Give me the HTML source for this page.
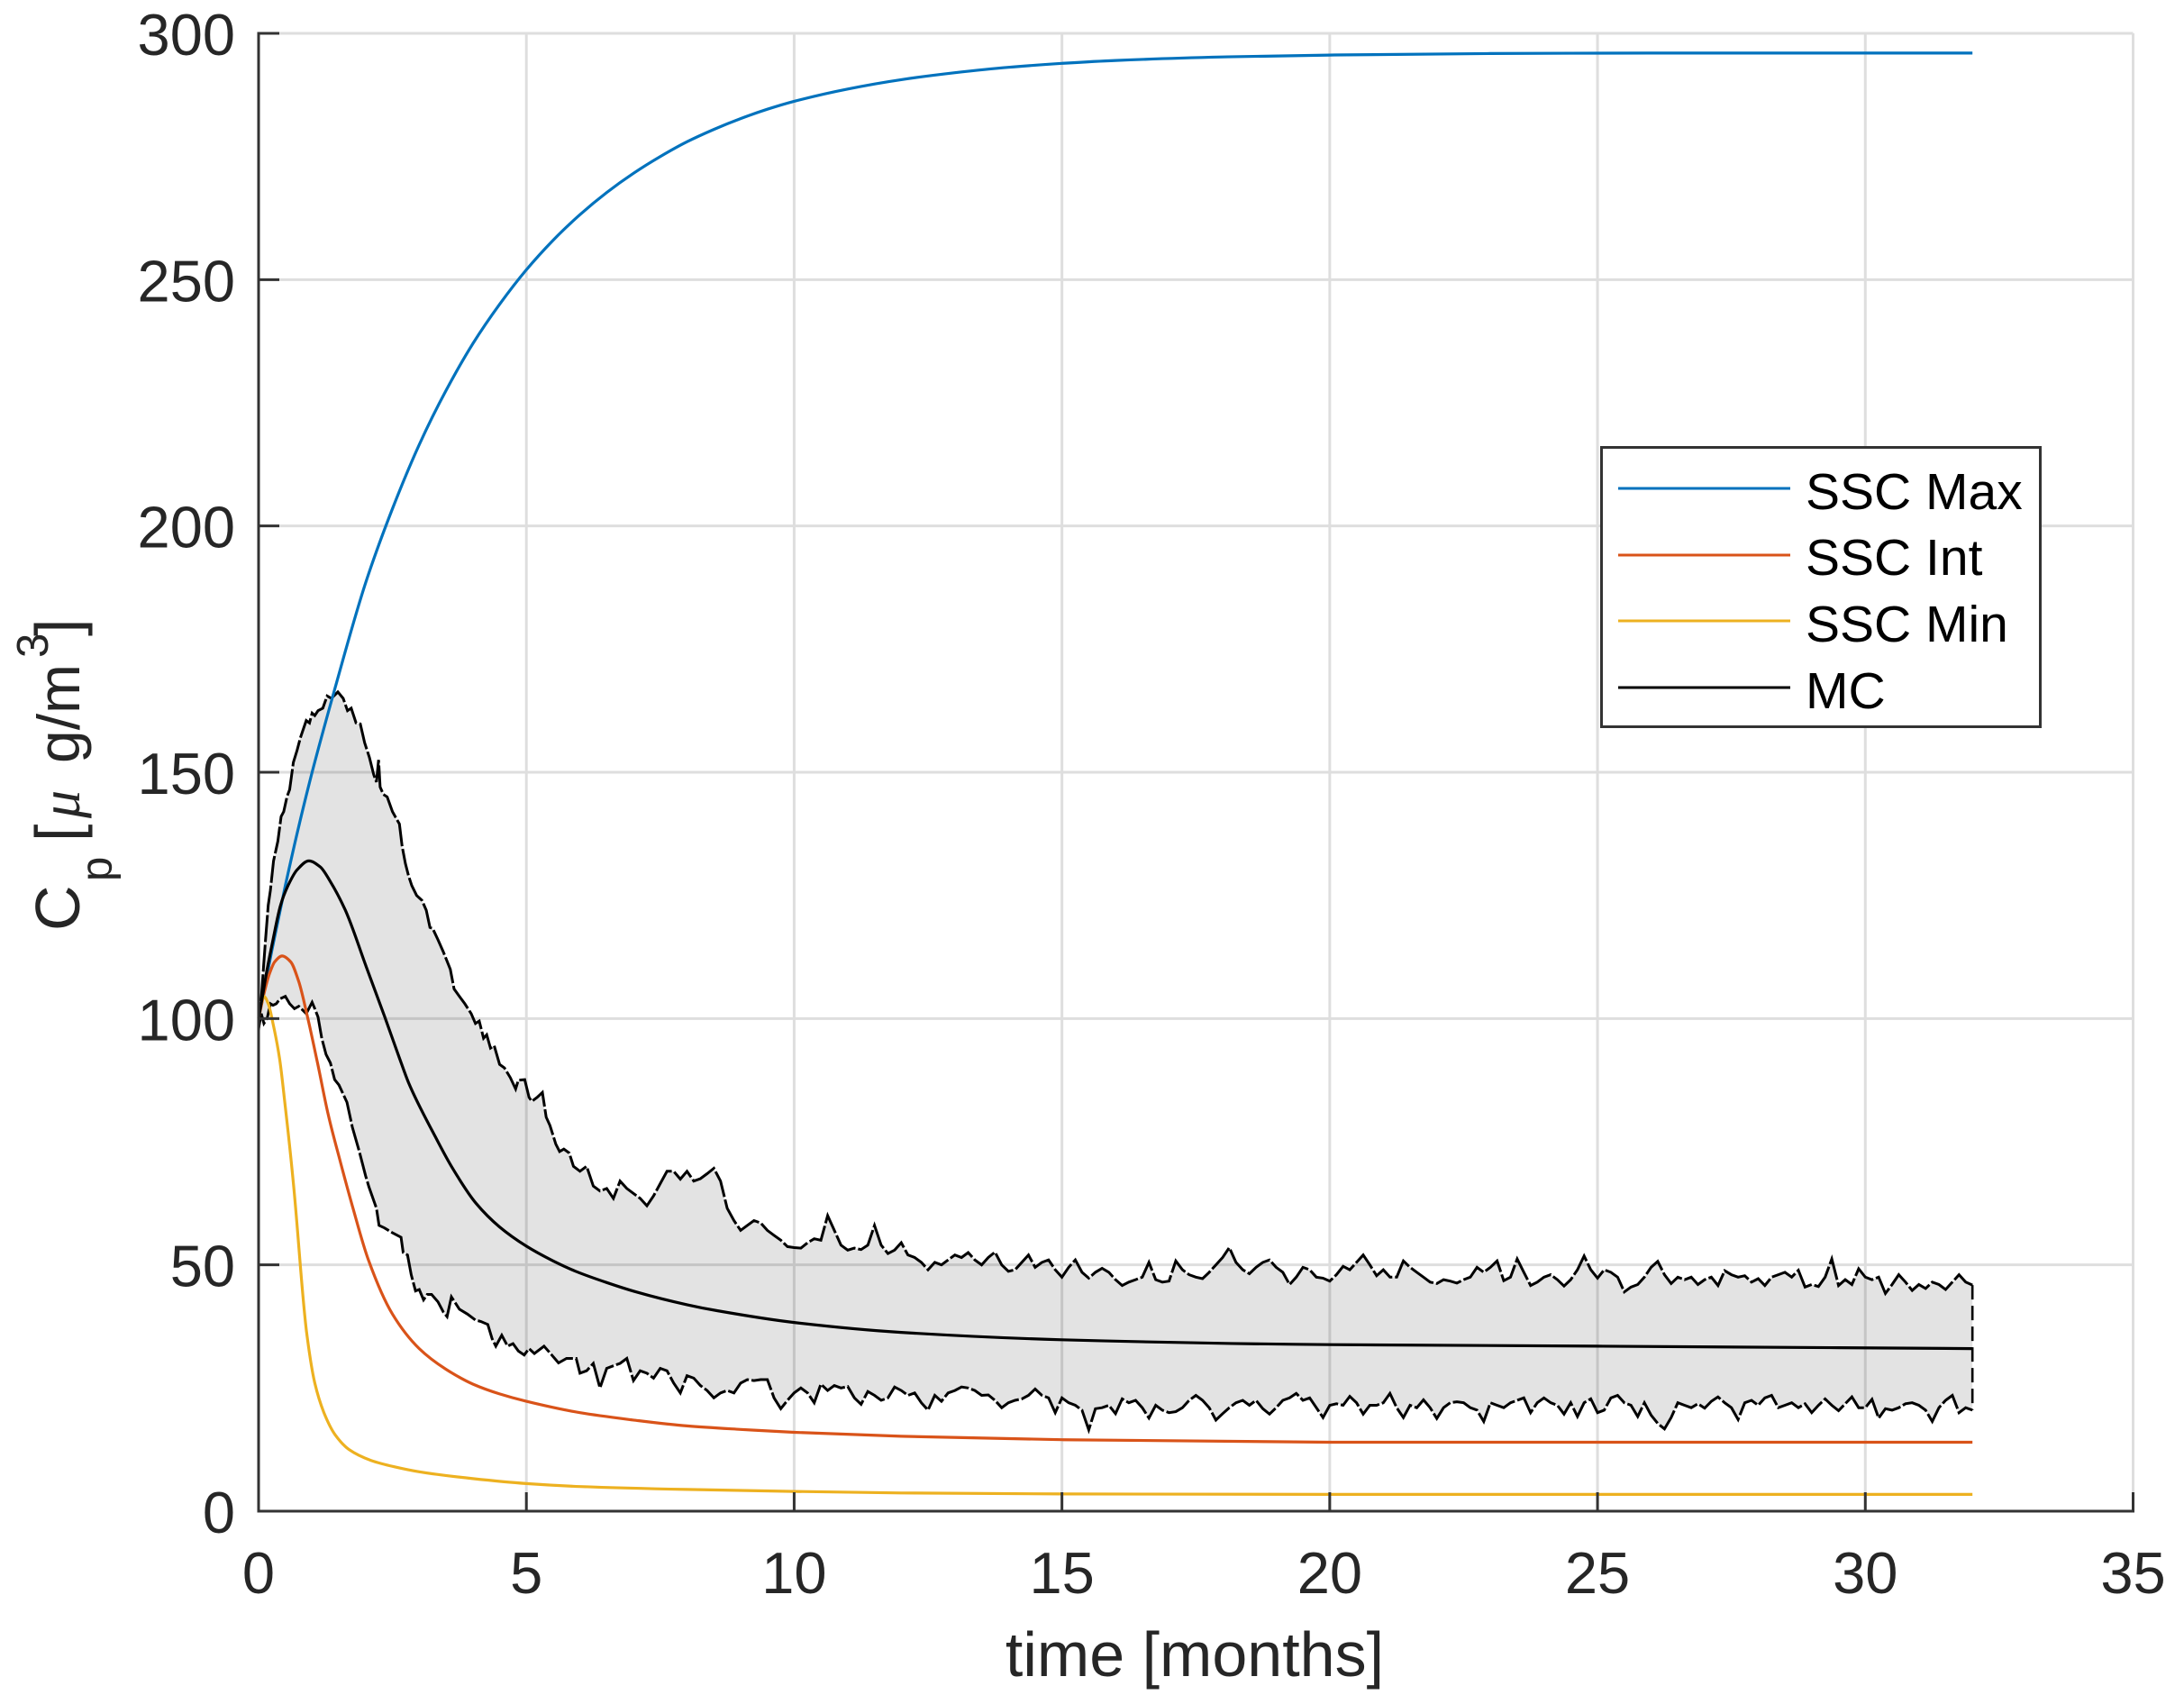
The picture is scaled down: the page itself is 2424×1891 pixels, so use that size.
<!DOCTYPE html>
<html lang="en">
<head>
<meta charset="utf-8">
<title>Cp over time</title>
<style>
html,body{margin:0;padding:0;background:#fff;}
#chart{display:block;width:2424px;height:1891px;font-family:"Liberation Sans",Arial,sans-serif;}
</style>
</head>
<body>
<svg id="chart" xmlns="http://www.w3.org/2000/svg" width="2424" height="1891" viewBox="0 0 2424 1891">
  <rect width="2424" height="1891" fill="#fff"/>
  <g id="grid"></g>
  <path id="band" fill="#000" fill-opacity="0.11" stroke="none"/>
  <g id="series"></g>
  <g id="axes"></g>
  <g id="ticks" font-size="65" fill="#262626"></g>
  <text x="1326" y="1860" font-size="70" fill="#262626" text-anchor="middle">time [months]</text>
  <g transform="translate(88,1033) rotate(-90)" fill="#262626">
    <text x="0" y="0" font-size="70">C</text>
    <text x="55" y="36" font-size="49">p</text>
    <text x="99" y="0" font-size="70">[</text>
    <text x="125" y="0" font-size="62" font-family="'Liberation Serif',serif" font-style="italic">μ</text>
    <text x="186" y="0" font-size="66">g/m</text>
    <text x="303" y="-35" font-size="49">3</text>
    <text x="327" y="0" font-size="70">]</text>
  </g>
  <g id="legend">
    <rect x="1777.5" y="496.5" width="487" height="310" fill="#fff" stroke="#333" stroke-width="3"/>
    <line x1="1796" x2="1987" y1="542" y2="542" stroke="#0072BD" stroke-width="3"/>
    <text x="2004" y="565" font-size="57" fill="#000">SSC Max</text>
    <line x1="1796" x2="1987" y1="616" y2="616" stroke="#D95319" stroke-width="3"/>
    <text x="2004" y="638" font-size="57" fill="#000">SSC Int</text>
    <line x1="1796" x2="1987" y1="689" y2="689" stroke="#EDB120" stroke-width="3"/>
    <text x="2004" y="712" font-size="57" fill="#000">SSC Min</text>
    <line x1="1796" x2="1987" y1="763" y2="763" stroke="#000" stroke-width="3"/>
    <text x="2004" y="786" font-size="57" fill="#000">MC</text>
  </g>
</svg>
<script>
// ---- tick values ----
var xTicks = [0,5,10,15,20,25,30,35];
var yTicks = [0,50,100,150,200,250,300];

// ---- smooth series ----
var maxTimes = [0,0.25,0.5,0.75,1,1.4,2,2.5,3,3.5,4,4.5,5,5.5,6,6.5,7,7.5,8,8.5,9,9.5,10,11,12,13,14,15,16,18,20,23,26,32];
var maxValues = [100,114,127,139,150,166,188.5,203.5,216.5,227.5,237,245,252,258,263.2,267.7,271.6,275,278,280.5,282.7,284.6,286.2,288.7,290.6,292,293.1,293.9,294.5,295.2,295.6,295.9,296,296];

var intTimes = [0,0.1,0.2,0.3,0.44,0.6,0.75,0.92,1.1,1.3,1.5,1.75,2.05,2.5,3,3.5,4,4.5,5,6,7,8,9,10,12,15,20,25,32];
var intValues = [100,105,109,111.5,112.7,111.5,107.5,100,91,80.5,72,62,51,40,33,28.8,25.8,23.8,22.3,20,18.5,17.3,16.6,16,15.2,14.5,14,14,14];

var minTimes = [0,0.05,0.1,0.18,0.27,0.39,0.5,0.65,0.9,1.05,1.22,1.43,1.69,2.1,2.54,3,4,5,6,8,10,12,15,20,32];
var minValues = [100,103,104.5,103,99,92,82,66.6,36,26,20,15.5,12.5,10.3,9,8,6.6,5.6,5,4.4,4,3.7,3.5,3.4,3.4];

var mcTimes = [0,0.08,0.16,0.27,0.41,0.55,0.72,0.94,1.15,1.34,1.62,2.01,2.35,2.62,2.8,3.3,3.6,4.06,4.5,5,5.5,5.92,6.5,7.05,8,8.56,10,12,15,20,25,32];
var mcValues = [100,105,110,116,123,127,130.2,132,130.8,127.8,122,110.5,100.5,92.3,87,76,70,62.5,57.7,53.8,50.8,48.7,46.4,44.5,41.9,40.7,38.3,36.3,34.8,33.8,33.5,33];

// ---- band upper bound, early part (irregular times) ----
var upperEarlyTimes = [0,0.03,0.05,0.09,0.13,0.18,0.22,0.28,0.36,0.42,0.47,0.53,0.58,0.65,0.72,0.78,0.89,0.95,1,1.05,1.11,1.2,1.28,1.36,1.48,1.58,1.66,1.73,1.82,1.9,1.98,2.07,2.15,2.2,2.24,2.27,2.33,2.4,2.5,2.63,2.68,2.74,2.8,2.86,2.95,3.05,3.13,3.2,3.25,3.35,3.45,3.58,3.65,3.75,3.85,3.97,4.05,4.12,4.2,4.26,4.33,4.4,4.5,4.59,4.7,4.8,4.85,4.97,5.05,5.1,5.2,5.3,5.37,5.44,5.55,5.62,5.7,5.8,5.88];
var upperEarlyValues = [97.5,103,104,110,116,123,126,132,136,141,142,145,146.5,152,154.5,157,160.5,160,162,161.5,162.5,163,165.5,165,166.3,165,162.5,163,160,159.8,156,153,149.5,148,152.5,147,145.5,145,142,139.5,135,131.5,129,127,125,124,122,118.5,118.3,116,113.5,110,106,104.5,103,101,99,99.5,96,96.7,94,94.5,90.7,90,88,85.7,87.5,87.6,84,83.2,84,85,80,78.3,74.5,73,73.5,72.7,70];

// ---- band upper bound, t = 6 to 32 at an even step ----
var upperTailValues = [69,70,66,65,65.5,63.5,67,65.5,64.5,63.5,62,64,66.5,69,69,67.4,69,67,67.5,68.5,69.6,67,61.5,59,57,58,59,58.5,57,56,55,53.7,53.5,53.4,54.5,55.3,55,60,57,54,53,53.4,53.1,54,58,54,52.3,53,54.5,52,51.5,50.5,49,50.5,50,51,52,51.5,52.5,51,50,51.5,52.6,50,48.7,49,50.5,52,49.5,50.5,51,49,47.5,49.5,51,48.5,47.3,48.5,49.3,48.5,47,45.8,46.5,47,47.5,50.5,47,46.5,46.7,50.8,49,48,47.5,47.2,48.5,50,51.5,53.5,50.5,49,48.2,49.5,50.5,51,49.5,48.5,46,47.5,49.5,49,47.5,47.3,46.7,48,49.7,49,50.5,52,50,47.8,49,47.5,47.5,50.8,49.5,48.5,47.5,46.5,46.2,47,46.7,46.3,47,47.5,49.5,48.5,49.5,50.8,46.8,47.5,51.2,48.5,45.8,46.5,47.5,48,47,45.7,47,49,51.8,49,47.3,49,48.5,47.5,44.5,45.5,46,47.5,49.5,50.7,48,46.2,47.5,47,47.5,46,47,47.5,45.8,48.8,48,47.5,47.8,46.5,47.2,45.8,47.5,48,48.5,47.5,48.9,45.5,46,45.6,47.5,51.2,45.8,47,46,49.2,47.5,47,47.5,44.2,46,48,46.5,44.8,46,45.2,46.5,46,45,46.5,48,46.5,45.9];

// ---- band lower bound, early part (irregular times) ----
var lowerEarlyTimes = [0,0.05,0.1,0.16,0.22,0.27,0.33,0.4,0.5,0.58,0.67,0.75,0.89,1,1.05,1.11,1.18,1.26,1.34,1.42,1.5,1.65,1.75,1.88,2,2.06,2.2,2.25,2.35,2.5,2.66,2.7,2.78,2.85,2.93,3,3.08,3.15,3.23,3.35,3.45,3.52,3.6,3.75,3.9,4.05,4.15,4.28,4.36,4.43,4.54,4.65,4.75,4.85,4.96,5.05,5.15,5.33,5.45,5.6,5.75,5.93];
var lowerEarlyValues = [98,101,99,100,103,102.7,103,104,104.5,103,102,102.5,101,103.3,102,100.3,96,92.7,91,87.6,86.5,83,78,73,68,65.8,61.5,58,57.5,56.5,55.6,52.5,52,48,44.7,45,42.9,44,44,42.5,40.4,39.5,43.5,41,40,38.8,38.5,37.9,35,33.5,35.7,33.5,34,32.5,31.7,33,32,33.5,32,30.1,31,31];

// ---- band lower bound, t = 6 to 32 at an even step ----
var lowerTailValues = [28,28.5,30,25,29,29.5,30,31,26.5,28.5,28,27,29,28.5,26,24,27.5,27,25.5,24.5,23,24,24.5,24,26,26.7,26.5,26.7,26.7,23,20.8,22.5,24,25,24,22,25.8,24.5,25.5,25,25.3,23,21.7,24.3,23.5,22.5,23,25.2,24.5,23.5,24,22,20.5,23.5,22.3,24,24.5,25.2,25,24.5,23.5,23.6,22.5,21,22,22.5,22.8,23.5,24.8,23.5,23,20,23,22,21.5,20.5,16.5,20.8,21,21.5,19.8,22.8,22,22.5,21,18.9,21.5,20.5,20,20.2,21,22.5,23.5,22.5,21,18.5,19.8,21,22,22.5,21.5,22.5,20.8,19.7,21,22.5,23,23.9,22.5,23,21,19,21.5,21.8,21.5,23.3,22,19.7,21.5,21.5,22,23.9,21,19,21.5,21,22.6,21,18.8,21,22,22.2,22,21,20.5,18.2,22,21.5,21,22,22.5,23,20,22,23,22,21.5,19.7,22,19.2,22,22.8,20,20.5,23,23.5,22,21.5,19.2,22,19.5,17.8,16.7,19,22,21.5,21,21.8,20.9,22.3,23.2,22,21,18.6,22,22.5,21.5,23,23.5,21,21.5,22,21,21.8,20,21.5,22.8,21.5,20.4,21.8,23.2,21,21,22.7,18.9,20.8,20.5,21,21.8,22,21.5,20.5,18.2,21,22.5,23.5,20,21,20.5];

var tailStart = 6;
var tailEnd = 32;

// ---- axis functions ----
var X0 = 287, X1 = 2367.5, Y0 = 1677, Y1 = 37;
var xDomainMax = 35, yDomainMax = 300;
function sx(t){ return X0 + (X1 - X0) * t / xDomainMax; }
function sy(v){ return Y0 - (Y0 - Y1) * v / yDomainMax; }

function tailTimes(values){
  var out = [];
  for (var i = 0; i < values.length; i++) {
    out.push(tailStart + (tailEnd - tailStart) * i / (values.length - 1));
  }
  return out;
}
function polyline(times, values){
  var d = '';
  for (var i = 0; i < times.length; i++) {
    d += (i ? 'L' : 'M') + sx(times[i]).toFixed(1) + ' ' + sy(values[i]).toFixed(1);
  }
  return d;
}
// monotone cubic through non-uniform samples
function smooth(times, values){
  var n = times.length, px = [], py = [], h = [], s = [], m = [], i;
  for (i = 0; i < n; i++) { px.push(sx(times[i])); py.push(sy(values[i])); }
  for (i = 0; i < n - 1; i++) { h.push(px[i+1] - px[i]); s.push((py[i+1] - py[i]) / h[i]); }
  m[0] = s[0];
  m[n-1] = s[n-2];
  for (i = 1; i < n - 1; i++) {
    if (s[i-1] * s[i] <= 0) { m[i] = 0; }
    else {
      var w1 = 2 * h[i] + h[i-1], w2 = h[i] + 2 * h[i-1];
      m[i] = (w1 + w2) / (w1 / s[i-1] + w2 / s[i]);
    }
  }
  var d = 'M' + px[0].toFixed(1) + ' ' + py[0].toFixed(1);
  for (i = 0; i < n - 1; i++) {
    d += 'C' + (px[i] + h[i]/3).toFixed(1) + ' ' + (py[i] + m[i]*h[i]/3).toFixed(1) + ' ' +
         (px[i+1] - h[i]/3).toFixed(1) + ' ' + (py[i+1] - m[i+1]*h[i]/3).toFixed(1) + ' ' +
         px[i+1].toFixed(1) + ' ' + py[i+1].toFixed(1);
  }
  return d;
}
var NS = 'http://www.w3.org/2000/svg';
function make(tag, attrs, parent){
  var el = document.createElementNS(NS, tag);
  for (var k in attrs) { el.setAttribute(k, attrs[k]); }
  parent.appendChild(el);
  return el;
}

var gridG = document.getElementById('grid');
var axesG = document.getElementById('axes');
var ticksG = document.getElementById('ticks');
var seriesG = document.getElementById('series');
var el;

// grid
xTicks.forEach(function(t){
  var g = make('line', {x1:sx(t), x2:sx(t), y1:Y1, y2:Y0, stroke:'#dedede', 'stroke-width':3}, gridG);
  
  
});
yTicks.forEach(function(v){
  var g = make('line', {x1:X0, x2:X1, y1:sy(v), y2:sy(v), stroke:'#dedede', 'stroke-width':3}, gridG);
  
  
});

// band
var upT = upperEarlyTimes.concat(tailTimes(upperTailValues));
var upV = upperEarlyValues.concat(upperTailValues);
var loT = lowerEarlyTimes.concat(tailTimes(lowerTailValues));
var loV = lowerEarlyValues.concat(lowerTailValues);
var bandD = polyline(upT, upV);
for (var i = loT.length - 1; i >= 0; i--) {
  bandD += 'L' + sx(loT[i]).toFixed(1) + ' ' + sy(loV[i]).toFixed(1);
}
document.getElementById('band').setAttribute('d', bandD + 'Z');

// series
el = make('path', {d:polyline(upT, upV), fill:'none', stroke:'#000', 'stroke-width':3, 'stroke-dasharray':'30 3', 'stroke-linejoin':'miter'}, seriesG);


el = make('path', {d:polyline(loT, loV), fill:'none', stroke:'#000', 'stroke-width':3, 'stroke-dasharray':'30 3', 'stroke-linejoin':'miter'}, seriesG);


el = make('line', {x1:sx(tailEnd), x2:sx(tailEnd), y1:sy(upperTailValues[upperTailValues.length-1]), y2:sy(lowerTailValues[lowerTailValues.length-1]), stroke:'#000', 'stroke-width':2.6, 'stroke-dasharray':'16 7'}, seriesG);


el = make('path', {d:smooth(maxTimes, maxValues), fill:'none', stroke:'#0072BD', 'stroke-width':3.2}, seriesG);


el = make('path', {d:smooth(intTimes, intValues), fill:'none', stroke:'#D95319', 'stroke-width':3.2}, seriesG);


el = make('path', {d:smooth(minTimes, minValues), fill:'none', stroke:'#EDB120', 'stroke-width':3.2}, seriesG);


el = make('path', {d:smooth(mcTimes, mcValues), fill:'none', stroke:'#000', 'stroke-width':3.2}, seriesG);



// axes
el = make('line', {x1:X0, x2:X0, y1:Y1-1.5, y2:Y0+1.5, stroke:'#333', 'stroke-width':3}, axesG);


el = make('line', {x1:X0-1.5, x2:X1+1.5, y1:Y0, y2:Y0, stroke:'#333', 'stroke-width':3}, axesG);



xTicks.forEach(function(t){
  var m = make('line', {x1:sx(t), x2:sx(t), y1:Y0, y2:Y0-21, stroke:'#333', 'stroke-width':3}, axesG);
  
  
  var l = make('text', {x:sx(t), y:1768, 'text-anchor':'middle'}, ticksG);
  
  
  l.textContent = t;
});
yTicks.forEach(function(v){
  var m = make('line', {x1:X0, x2:X0+23, y1:sy(v), y2:sy(v), stroke:'#333', 'stroke-width':3}, axesG);
  
  
  var l = make('text', {x:261, y:sy(v)+24, 'text-anchor':'end'}, ticksG);
  
  
  l.textContent = v;
});
</script>
</body>
</html>
